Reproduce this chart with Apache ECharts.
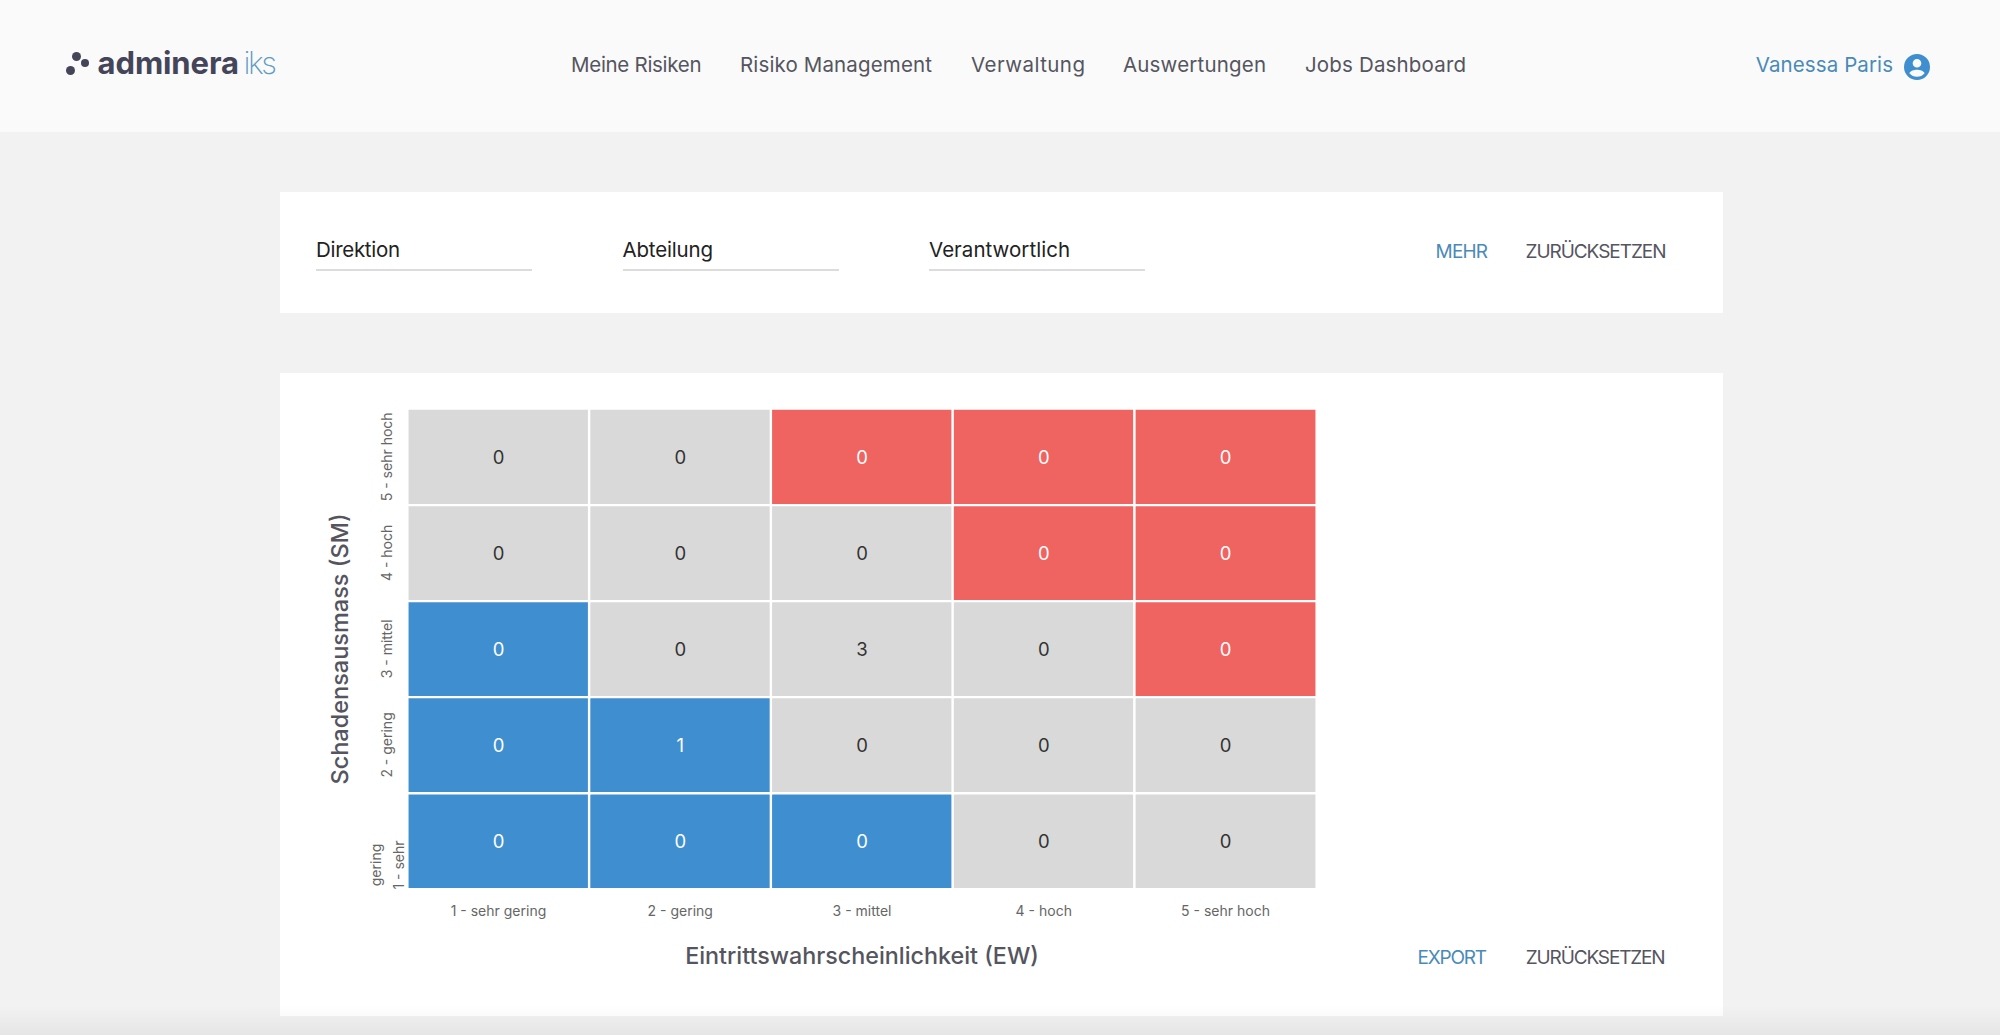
<!DOCTYPE html>
<html lang="de"><head><meta charset="utf-8"><title>Risikomatrix</title>
<script src="https://cdn.jsdelivr.net/npm/echarts@6/dist/echarts.min.js"></script>
<style>
html,body{margin:0;padding:0;width:2000px;height:1035px;overflow:hidden;background:#f2f2f2;font-family:Inter,"Open Sans",sans-serif}
.abs{position:absolute}
.t{position:absolute;white-space:nowrap;line-height:1;transform:translateY(-50%)}
#hdr{left:0;top:0;width:2000px;height:132px;background:#fafafa}
.card{background:#fff;left:280px;width:1443px}
#shade{left:0;top:1005px;width:2000px;height:30px;background:linear-gradient(rgba(0,0,0,0),rgba(0,0,0,.05));z-index:5;pointer-events:none}
.u{position:absolute;height:1.500px;background:#dcdcdc;top:269px;width:216px}
.dot{position:absolute;border-radius:50%;background:#45455a}
#chart{left:0;top:0;width:2000px;height:1035px}
</style></head><body>
<div class="abs" id="hdr"></div>
<div class="abs card" style="top:192px;height:121px"></div>
<div class="abs card" style="top:373px;height:643px"></div>
<div class="abs" id="chart"></div>
<div class="dot" style="left:72px;top:52px;width:9px;height:9px"></div>
<div class="dot" style="left:81px;top:59px;width:8px;height:8px"></div>
<div class="dot" style="left:66px;top:66px;width:9px;height:9px"></div>
<div id="texts"></div>
<svg class="abs" style="left:1904px;top:54px" width="26" height="26" viewBox="0 0 24 24"><path fill="#3f8ecf" d="M12 0a12 12 0 1 0 0 24a12 12 0 0 0 0-24zm0 4.5a4 4 0 1 1 0 8a4 4 0 0 1 0-8zm0 16.5a9.3 9.3 0 0 1-7-3.3c.9-2 4.4-3.1 7-3.1s6.100 1.100 7 3.100a9.300 9.300 0 0 1-7 3.300z"/></svg>
<div class="u" style="left:316px"></div><div class="u" style="left:622.500px"></div><div class="u" style="left:929px"></div>
<div class="abs" id="shade"></div>
<script>
// Chart data
var likelihoodLabels = ['1 - sehr gering', '2 - gering', '3 - mittel', '4 - hoch', '5 - sehr hoch'];
var impactLabels = ['1 - sehr gering', '2 - gering', '3 - mittel', '4 - hoch', '5 - sehr hoch'];
// Rows run from impact 1 (bottom) to impact 5 (top)
var riskCounts = [
  [0, 0, 0, 0, 0],
  [0, 1, 0, 0, 0],
  [0, 0, 3, 0, 0],
  [0, 0, 0, 0, 0],
  [0, 0, 0, 0, 0]
];
var riskZones = [
  ['low', 'low', 'low', 'mid', 'mid'],
  ['low', 'low', 'mid', 'mid', 'mid'],
  ['low', 'mid', 'mid', 'mid', 'high'],
  ['mid', 'mid', 'mid', 'high', 'high'],
  ['mid', 'mid', 'high', 'high', 'high']
];
var xAxisTitle = 'Eintrittswahrscheinlichkeit (EW)';
var yAxisTitle = 'Schadensausmass (SM)';
var navItems = ['Meine Risiken', 'Risiko Management', 'Verwaltung', 'Auswertungen', 'Jobs Dashboard'];
var filterFields = ['Direktion', 'Abteilung', 'Verantwortlich'];

var zoneColors = {low: '#3f8ecf', mid: '#d9d9d9', high: '#ef6461'};
var zoneText = {low: '#ffffff', mid: '#333333', high: '#ffffff'};

var cells = [];
riskCounts.forEach(function (row, y) {
  row.forEach(function (v, x) {
    var z = riskZones[y][x];
    cells.push({value: [x, y, v], itemStyle: {color: zoneColors[z]}, label: {color: zoneText[z]}});
  });
});

var font = 'Inter';
var chart = echarts.init(document.getElementById('chart'), null, {renderer: 'svg', width: 2000, height: 1035});
chart.setOption({
  animation: false,
  backgroundColor: 'transparent',
  grid: {left: 407.6, top: 408.8, width: 908.8, height: 480.2, containLabel: false},
  xAxis: {
    type: 'category', data: likelihoodLabels, name: xAxisTitle, nameLocation: 'middle', nameGap: 54.5,
    nameTextStyle: {fontFamily: font, fontSize: 23.300, fontWeight: 500, color: '#55555f'},
    axisLine: {show: false}, axisTick: {show: false}, splitLine: {show: false}, splitArea: {show: false},
    axisLabel: {fontFamily: font, fontSize: 14, color: '#666', margin: 14, interval: 0}
  },
  yAxis: {
    type: 'category', data: impactLabels, name: yAxisTitle, nameLocation: 'middle', nameGap: 56.5,
    nameTextStyle: {fontFamily: font, fontSize: 23.500, fontWeight: 500, color: '#55555f'},
    axisLine: {show: false}, axisTick: {show: false}, splitLine: {show: false}, splitArea: {show: false},
    axisLabel: {
      rotate: 90, align: 'center', verticalAlign: 'middle', fontFamily: font, fontSize: 14, color: '#666', margin: 21, interval: 0,
      formatter: function (v, i) {
        if (i !== 0) return v;
        var m = v.match(/^(.*) (\S+)$/);
        return '{low|' + m[2] + '}\n{low|' + m[1] + '}';
      },
      rich: {low: {fontFamily: font, fontSize: 14, color: '#666', lineHeight: 23, padding: [0, 48, 0, 0]}}
    }
  },
  series: [{
    type: 'heatmap', data: cells,
    label: {show: true, fontFamily: font, fontSize: 18.500, formatter: function (p) { return p.value[2]; }},
    itemStyle: {borderColor: '#fff', borderWidth: 2.400},
    emphasis: {disabled: true}
  }]
});

// Page chrome: [text, left, right, centreY, size, colour, weight]
var chrome = [
  ['adminera', 97.600, 239, 62, 31, '#45455a', 700],
  ['iks', 243.600, 277, 62, 31, '#5f9cc4', 200],
  [navItems[0], 571, 701.500, 65, 20.500, '#55555f', 400],
  [navItems[1], 740, 932, 65, 20.500, '#55555f', 400],
  [navItems[2], 971, 1085, 65, 20.500, '#55555f', 400],
  [navItems[3], 1123, 1266, 65, 20.500, '#55555f', 400],
  [navItems[4], 1305, 1466, 65, 20.500, '#55555f', 400],
  ['Vanessa Paris', 1755.700, 1893, 65, 20.500, '#4a8ab8', 400],
  [filterFields[0], 316, 400, 250, 20.500, '#222', 400],
  [filterFields[1], 622.500, 713, 250, 20.500, '#222', 400],
  [filterFields[2], 929, 1070, 250, 20.500, '#222', 400],
  ['MEHR', 1435.600, 1488, 251, 19, '#4a8ab8', 400],
  ['ZURÜCKSETZEN', 1525.500, 1666.500, 251, 19, '#55555f', 400],
  ['EXPORT', 1417.600, 1487, 957, 19, '#4a8ab8', 400],
  ['ZURÜCKSETZEN', 1525.800, 1665.700, 957, 19, '#55555f', 400]
];
var host = document.getElementById('texts');
chrome.forEach(function (c) {
  var d = document.createElement('div');
  d.className = 't';
  d.textContent = c[0];
  d.style.cssText = 'left:' + c[1] + 'px;top:' + c[3] + 'px;font-size:' + c[4] + 'px;color:' + c[5] + ';font-weight:' + c[6];
  host.appendChild(d);
  var extra = (c[2] - c[1] - d.getBoundingClientRect().width) / Math.max(1, c[0].length - 1);
  d.style.letterSpacing = extra + 'px';
});
</script>
</body></html>
